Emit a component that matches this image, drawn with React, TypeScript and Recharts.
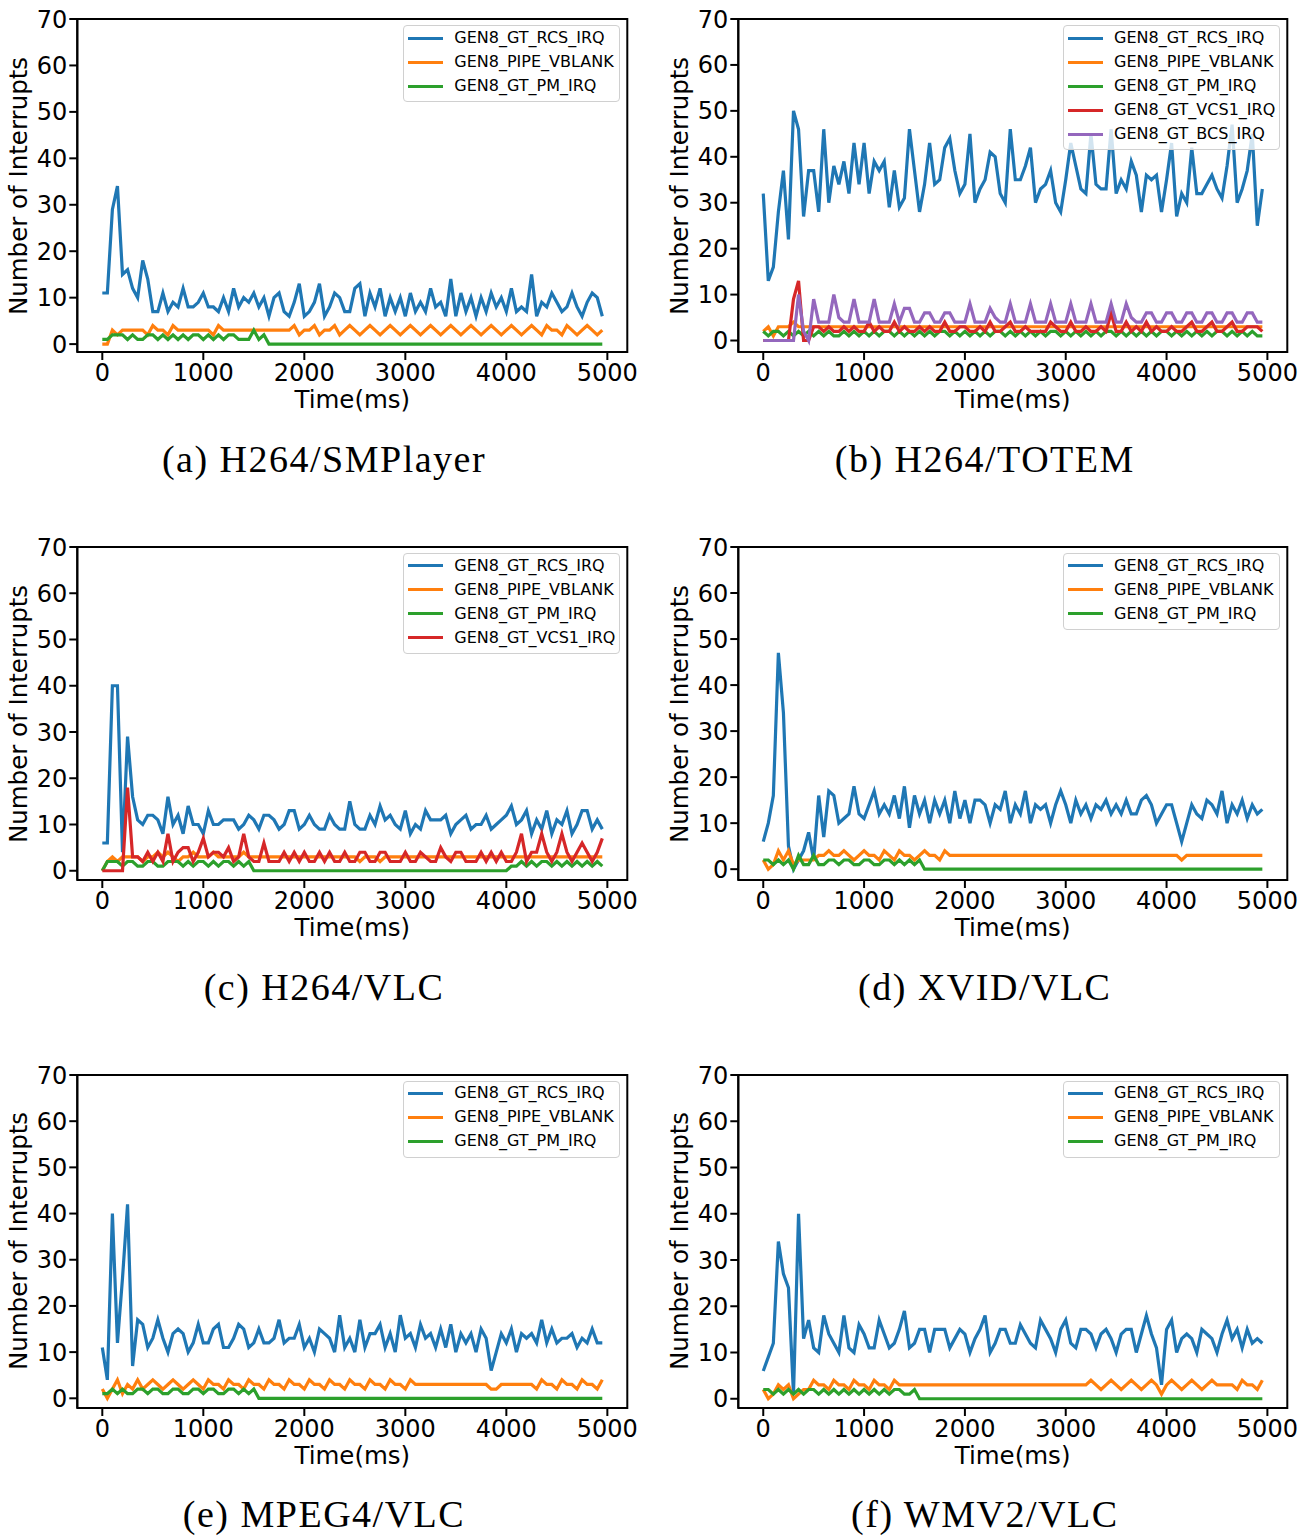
import React from 'react';
import { LineChart, Line, XAxis, YAxis, ReferenceArea } from 'recharts';

const TIME = [
  0, 50, 100, 150, 200, 250, 300, 350, 400, 450,
  500, 550, 600, 650, 700, 750, 800, 850, 900, 950,
  1000, 1050, 1100, 1150, 1200, 1250, 1300, 1350, 1400, 1450,
  1500, 1550, 1600, 1650, 1700, 1750, 1800, 1850, 1900, 1950,
  2000, 2050, 2100, 2150, 2200, 2250, 2300, 2350, 2400, 2450,
  2500, 2550, 2600, 2650, 2700, 2750, 2800, 2850, 2900, 2950,
  3000, 3050, 3100, 3150, 3200, 3250, 3300, 3350, 3400, 3450,
  3500, 3550, 3600, 3650, 3700, 3750, 3800, 3850, 3900, 3950,
  4000, 4050, 4100, 4150, 4200, 4250, 4300, 4350, 4400, 4450,
  4500, 4550, 4600, 4650, 4700, 4750, 4800, 4850, 4900, 4950,
];
const X_TICKS = [0, 1000, 2000, 3000, 4000, 5000];
const Y_TICKS = [0, 10, 20, 30, 40, 50, 60, 70];

const NAMES: Record<string, string> = {
  rcs: 'GEN8_GT_RCS_IRQ',
  vblank: 'GEN8_PIPE_VBLANK',
  pm: 'GEN8_GT_PM_IRQ',
  vcs1: 'GEN8_GT_VCS1_IRQ',
  bcs: 'GEN8_GT_BCS_IRQ',
};
const COLORS: Record<string, string> = {
  rcs: '#1f77b4',
  vblank: '#ff7f0e',
  pm: '#2ca02c',
  vcs1: '#d62728',
  bcs: '#9467bd',
};

// (a) H264/SMPlayer
const A_RCS = [
  11, 11, 29, 34, 15, 16, 12, 10, 18, 14,
  7, 7, 11, 7, 9, 8, 12, 8, 8, 9,
  11, 8, 8, 7, 10, 7, 12, 8, 10, 9,
  11, 8, 10, 6, 10, 11, 7, 6, 9, 13,
  6, 7, 9, 13, 6, 8, 11, 10, 7, 7,
  12, 13, 6, 11, 8, 12, 6, 10, 7, 10,
  6, 11, 7, 9, 7, 12, 8, 9, 6, 14,
  6, 11, 7, 10, 6, 10, 7, 11, 8, 10,
  7, 12, 7, 8, 7, 15, 6, 9, 8, 11,
  9, 7, 8, 11, 8, 6, 9, 11, 10, 6,
];
const A_VBLANK = [
  0, 0, 3, 2, 3, 3, 3, 3, 3, 2,
  4, 3, 3, 2, 4, 3, 3, 3, 3, 3,
  3, 3, 2, 4, 3, 3, 3, 3, 3, 3,
  3, 3, 3, 3, 3, 3, 3, 3, 4, 2,
  3, 3, 4, 2, 3, 3, 4, 2, 3, 4,
  3, 2, 3, 4, 3, 2, 3, 4, 3, 2,
  3, 4, 3, 2, 3, 4, 3, 2, 3, 4,
  3, 2, 3, 4, 3, 2, 3, 4, 3, 2,
  3, 4, 3, 2, 3, 4, 3, 2, 4, 3,
  3, 2, 4, 3, 2, 3, 4, 3, 2, 3,
];
const A_PM = [
  1, 1, 2, 2, 2, 1, 2, 1, 1, 2,
  2, 1, 2, 1, 2, 1, 2, 1, 2, 2,
  1, 2, 1, 2, 1, 2, 2, 1, 1, 1,
  3, 1, 2, 0, 0, 0, 0, 0, 0, 0,
  0, 0, 0, 0, 0, 0, 0, 0, 0, 0,
  0, 0, 0, 0, 0, 0, 0, 0, 0, 0,
  0, 0, 0, 0, 0, 0, 0, 0, 0, 0,
  0, 0, 0, 0, 0, 0, 0, 0, 0, 0,
  0, 0, 0, 0, 0, 0, 0, 0, 0, 0,
  0, 0, 0, 0, 0, 0, 0, 0, 0, 0,
];

// (b) H264/TOTEM
const B_RCS = [
  32, 13, 16, 28, 37, 22, 50, 46, 27, 37,
  37, 28, 46, 30, 38, 34, 39, 32, 43, 34,
  43, 32, 39, 37, 39, 29, 37, 29, 31, 46,
  37, 28, 34, 43, 34, 35, 42, 44, 37, 32,
  34, 45, 30, 33, 35, 41, 40, 32, 30, 46,
  35, 35, 38, 42, 30, 33, 34, 37, 30, 28,
  35, 43, 38, 33, 32, 45, 34, 33, 33, 46,
  32, 35, 33, 39, 36, 28, 36, 35, 36, 28,
  35, 43, 27, 32, 30, 42, 32, 32, 34, 36,
  33, 31, 38, 47, 30, 33, 37, 45, 25, 33,
];
const B_VBLANK = [
  2, 3, 1, 3, 3, 3, 4, 3, 3, 3,
  3, 3, 3, 3, 3, 3, 3, 3, 3, 3,
  3, 3, 3, 3, 3, 3, 3, 3, 3, 3,
  3, 3, 3, 3, 3, 3, 3, 3, 3, 3,
  3, 3, 3, 3, 3, 3, 3, 3, 3, 3,
  3, 3, 3, 3, 3, 3, 3, 3, 3, 3,
  3, 3, 3, 3, 3, 3, 3, 3, 3, 3,
  3, 3, 3, 3, 3, 3, 3, 3, 3, 3,
  3, 3, 3, 3, 3, 3, 3, 3, 3, 3,
  3, 3, 3, 3, 3, 3, 3, 3, 3, 3,
];
const B_PM = [
  2, 1, 2, 2, 1, 2, 1, 2, 1, 2,
  1, 2, 1, 2, 1, 1, 2, 1, 2, 1,
  2, 1, 2, 1, 2, 2, 1, 2, 1, 2,
  1, 2, 1, 2, 1, 2, 2, 1, 2, 1,
  2, 1, 2, 1, 2, 1, 2, 2, 1, 2,
  1, 2, 1, 2, 1, 2, 1, 2, 2, 1,
  2, 1, 2, 1, 2, 1, 2, 1, 2, 2,
  1, 2, 1, 2, 1, 2, 1, 2, 1, 2,
  2, 1, 2, 1, 2, 1, 2, 1, 2, 1,
  2, 2, 1, 2, 1, 2, 1, 2, 1, 1,
];
const B_VCS1 = [
  0, 0, 0, 0, 0, 0, 9, 13, 0, 0,
  3, 3, 2, 3, 2, 2, 3, 2, 3, 2,
  2, 4, 2, 3, 2, 2, 4, 2, 3, 2,
  2, 3, 2, 3, 2, 2, 4, 2, 2, 3,
  3, 2, 2, 3, 2, 4, 2, 2, 3, 4,
  2, 2, 3, 2, 2, 2, 2, 4, 3, 2,
  2, 4, 2, 2, 3, 2, 2, 3, 2, 6,
  2, 2, 4, 2, 3, 2, 4, 2, 3, 2,
  2, 3, 2, 2, 3, 4, 2, 2, 3, 4,
  2, 2, 3, 4, 2, 2, 3, 3, 3, 2,
];
const B_BCS = [
  0, 0, 0, 0, 0, 0, 0, 10, 2, 0,
  9, 4, 4, 4, 10, 5, 4, 4, 9, 4,
  4, 4, 9, 4, 4, 4, 8, 4, 7, 7,
  4, 4, 6, 6, 4, 4, 6, 6, 4, 4,
  4, 8, 4, 4, 4, 7, 5, 4, 4, 8,
  4, 4, 4, 8, 4, 4, 4, 8, 4, 4,
  4, 8, 4, 4, 4, 8, 4, 4, 4, 8,
  4, 4, 8, 5, 4, 4, 6, 6, 4, 4,
  6, 6, 4, 4, 6, 6, 4, 4, 6, 6,
  4, 4, 6, 6, 4, 4, 6, 6, 4, 4,
];

// (c) H264/VLC
const C_RCS = [
  6, 6, 40, 40, 4, 29, 16, 11, 10, 12,
  12, 11, 8, 16, 10, 12, 8, 14, 10, 10,
  8, 13, 10, 10, 11, 11, 11, 9, 10, 12,
  11, 9, 12, 12, 11, 9, 10, 13, 13, 9,
  10, 12, 10, 9, 9, 12, 10, 9, 9, 15,
  10, 9, 9, 12, 10, 14, 11, 12, 10, 9,
  13, 8, 10, 9, 13, 11, 11, 11, 12, 8,
  10, 11, 12, 9, 10, 10, 12, 9, 10, 11,
  12, 14, 10, 11, 13, 8, 11, 9, 13, 8,
  11, 10, 13, 8, 10, 13, 13, 9, 11, 9,
];
const C_VBLANK = [
  0, 2, 3, 2, 3, 3, 3, 3, 2, 3,
  3, 4, 3, 4, 3, 2, 3, 3, 4, 3,
  3, 3, 4, 3, 3, 3, 3, 3, 4, 3,
  3, 3, 3, 3, 3, 3, 3, 3, 3, 3,
  3, 3, 3, 3, 3, 3, 3, 3, 3, 3,
  3, 2, 3, 3, 3, 2, 3, 3, 3, 3,
  3, 3, 3, 3, 3, 3, 3, 3, 3, 3,
  3, 3, 3, 3, 3, 3, 3, 3, 3, 3,
  3, 3, 3, 3, 3, 3, 3, 3, 3, 3,
  3, 3, 3, 3, 3, 3, 3, 3, 3, 3,
];
const C_PM = [
  0, 2, 2, 2, 1, 2, 2, 1, 1, 2,
  2, 1, 1, 2, 2, 2, 1, 2, 1, 2,
  2, 1, 2, 1, 2, 2, 1, 2, 1, 2,
  0, 0, 0, 0, 0, 0, 0, 0, 0, 0,
  0, 0, 0, 0, 0, 0, 0, 0, 0, 0,
  0, 0, 0, 0, 0, 0, 0, 0, 0, 0,
  0, 0, 0, 0, 0, 0, 0, 0, 0, 0,
  0, 0, 0, 0, 0, 0, 0, 0, 0, 0,
  0, 1, 1, 2, 1, 2, 1, 2, 2, 1,
  2, 1, 2, 1, 2, 1, 2, 1, 2, 1,
];
const C_VCS1 = [
  0, 0, 0, 0, 0, 18, 3, 3, 2, 4,
  2, 4, 2, 8, 2, 4, 5, 5, 2, 4,
  7, 3, 4, 4, 3, 5, 2, 3, 8, 3,
  2, 2, 6, 2, 2, 2, 4, 2, 4, 2,
  4, 2, 2, 4, 2, 4, 2, 2, 4, 2,
  2, 4, 4, 2, 2, 4, 4, 2, 2, 2,
  4, 2, 2, 4, 3, 2, 2, 5, 3, 2,
  4, 4, 2, 2, 2, 4, 2, 4, 2, 4,
  2, 2, 4, 8, 2, 4, 4, 8, 4, 2,
  4, 8, 4, 2, 4, 6, 4, 2, 4, 7,
];

// (d) XVID/VLC
const D_RCS = [
  6, 10, 16, 47, 34, 5, 0, 2, 4, 8,
  2, 16, 7, 17, 16, 10, 11, 12, 18, 12,
  11, 14, 17, 12, 14, 12, 16, 11, 18, 9,
  16, 12, 15, 10, 15, 12, 15, 10, 17, 11,
  15, 10, 15, 15, 14, 10, 14, 13, 17, 10,
  14, 12, 17, 10, 14, 13, 14, 10, 14, 17,
  14, 10, 15, 12, 14, 11, 14, 13, 15, 12,
  14, 12, 15, 12, 12, 15, 16, 14, 10, 12,
  14, 14, 10, 6, 10, 14, 12, 11, 15, 14,
  12, 17, 10, 14, 12, 15, 11, 14, 12, 13,
];
const D_VBLANK = [
  2, 0, 1, 4, 2, 4, 1, 2, 2, 2,
  2, 3, 3, 4, 3, 3, 4, 3, 2, 3,
  4, 3, 3, 2, 4, 3, 2, 4, 3, 3,
  2, 3, 4, 3, 3, 2, 4, 3, 3, 3,
  3, 3, 3, 3, 3, 3, 3, 3, 3, 3,
  3, 3, 3, 3, 3, 3, 3, 3, 3, 3,
  3, 3, 3, 3, 3, 3, 3, 3, 3, 3,
  3, 3, 3, 3, 3, 3, 3, 3, 3, 3,
  3, 3, 3, 2, 3, 3, 3, 3, 3, 3,
  3, 3, 3, 3, 3, 3, 3, 3, 3, 3,
];
const D_PM = [
  2, 2, 1, 2, 1, 2, 0, 3, 1, 1,
  3, 1, 1, 2, 2, 1, 2, 2, 1, 1,
  2, 2, 1, 1, 2, 2, 1, 2, 1, 2,
  1, 2, 0, 0, 0, 0, 0, 0, 0, 0,
  0, 0, 0, 0, 0, 0, 0, 0, 0, 0,
  0, 0, 0, 0, 0, 0, 0, 0, 0, 0,
  0, 0, 0, 0, 0, 0, 0, 0, 0, 0,
  0, 0, 0, 0, 0, 0, 0, 0, 0, 0,
  0, 0, 0, 0, 0, 0, 0, 0, 0, 0,
  0, 0, 0, 0, 0, 0, 0, 0, 0, 0,
];

// (e) MPEG4/VLC
const E_RCS = [
  11, 4, 40, 12, 26, 42, 7, 17, 16, 11,
  13, 17, 13, 10, 14, 15, 14, 10, 12, 16,
  12, 12, 15, 16, 11, 11, 13, 16, 15, 11,
  12, 15, 12, 12, 13, 17, 12, 13, 13, 16,
  11, 13, 10, 15, 14, 13, 10, 18, 11, 13,
  10, 17, 11, 14, 14, 16, 11, 14, 10, 18,
  13, 14, 11, 16, 13, 14, 11, 15, 11, 16,
  10, 14, 12, 14, 10, 15, 13, 6, 10, 14,
  12, 15, 10, 14, 13, 14, 12, 17, 12, 15,
  12, 13, 13, 14, 11, 13, 12, 15, 12, 12,
];
const E_VBLANK = [
  2, 0, 2, 4, 1, 3, 2, 4, 2, 3,
  4, 3, 2, 3, 4, 3, 2, 3, 4, 3,
  2, 4, 3, 3, 2, 4, 3, 3, 2, 4,
  3, 3, 2, 4, 3, 3, 2, 4, 3, 3,
  2, 4, 3, 3, 2, 4, 3, 3, 2, 4,
  3, 3, 2, 4, 3, 3, 2, 4, 3, 3,
  2, 4, 3, 3, 3, 3, 3, 3, 3, 3,
  3, 3, 3, 3, 3, 3, 3, 2, 2, 3,
  3, 3, 3, 3, 3, 3, 2, 4, 3, 3,
  2, 4, 3, 3, 2, 4, 3, 3, 2, 4,
];
const E_PM = [
  1, 1, 2, 1, 2, 1, 1, 2, 2, 1,
  2, 2, 1, 1, 2, 2, 1, 1, 2, 2,
  1, 2, 2, 1, 1, 2, 2, 1, 2, 1,
  2, 0, 0, 0, 0, 0, 0, 0, 0, 0,
  0, 0, 0, 0, 0, 0, 0, 0, 0, 0,
  0, 0, 0, 0, 0, 0, 0, 0, 0, 0,
  0, 0, 0, 0, 0, 0, 0, 0, 0, 0,
  0, 0, 0, 0, 0, 0, 0, 0, 0, 0,
  0, 0, 0, 0, 0, 0, 0, 0, 0, 0,
  0, 0, 0, 0, 0, 0, 0, 0, 0, 0,
];

// (f) WMV2/VLC
const F_RCS = [
  6, 9, 12, 34, 27, 24, 1, 40, 13, 17,
  11, 10, 18, 14, 12, 10, 18, 11, 10, 16,
  14, 11, 11, 17, 14, 11, 12, 15, 19, 11,
  12, 15, 15, 10, 15, 15, 15, 11, 13, 15,
  14, 10, 13, 15, 18, 10, 12, 15, 15, 12,
  12, 16, 14, 12, 11, 17, 15, 13, 10, 15,
  17, 12, 11, 15, 15, 14, 11, 14, 15, 13,
  10, 14, 15, 15, 10, 14, 18, 14, 11, 3,
  15, 17, 10, 13, 14, 13, 10, 15, 14, 13,
  10, 14, 17, 13, 15, 11, 15, 12, 13, 12,
];
const F_VBLANK = [
  2, 0, 1, 3, 2, 3, 0, 1, 2, 2,
  4, 3, 3, 2, 4, 3, 3, 2, 4, 3,
  3, 2, 4, 3, 3, 2, 4, 3, 3, 3,
  3, 3, 3, 3, 3, 3, 3, 3, 3, 3,
  3, 3, 3, 3, 3, 3, 3, 3, 3, 3,
  3, 3, 3, 3, 3, 3, 3, 3, 3, 3,
  3, 3, 3, 3, 3, 4, 3, 2, 3, 4,
  3, 2, 3, 4, 3, 2, 3, 4, 3, 1,
  3, 4, 3, 2, 3, 4, 3, 2, 3, 4,
  3, 3, 3, 3, 2, 4, 3, 3, 2, 4,
];
const F_PM = [
  2, 2, 1, 2, 1, 2, 1, 2, 1, 2,
  2, 1, 2, 1, 2, 1, 2, 1, 2, 1,
  2, 1, 2, 1, 2, 1, 2, 2, 1, 1,
  2, 0, 0, 0, 0, 0, 0, 0, 0, 0,
  0, 0, 0, 0, 0, 0, 0, 0, 0, 0,
  0, 0, 0, 0, 0, 0, 0, 0, 0, 0,
  0, 0, 0, 0, 0, 0, 0, 0, 0, 0,
  0, 0, 0, 0, 0, 0, 0, 0, 0, 0,
  0, 0, 0, 0, 0, 0, 0, 0, 0, 0,
  0, 0, 0, 0, 0, 0, 0, 0, 0, 0,
];

const CAPTIONS = [
  '(a) H264/SMPlayer',
  '(b) H264/TOTEM',
  '(c) H264/VLC',
  '(d) XVID/VLC',
  '(e) MPEG4/VLC',
  '(f) WMV2/VLC',
];
const X_LABEL = 'Time(ms)';
const Y_LABEL = 'Number of Interrupts';

type SeriesDef = { key: string; values: number[] };
type PanelDef = { caption: string; col: number; row: number; ymin: number; series: SeriesDef[] };

const PANELS: PanelDef[] = [
  {
    caption: CAPTIONS[0], col: 0, row: 0, ymin: -1.7,
    series: [
      { key: 'rcs', values: A_RCS },
      { key: 'vblank', values: A_VBLANK },
      { key: 'pm', values: A_PM },
    ],
  },
  {
    caption: CAPTIONS[1], col: 1, row: 0, ymin: -2.5,
    series: [
      { key: 'rcs', values: B_RCS },
      { key: 'vblank', values: B_VBLANK },
      { key: 'pm', values: B_PM },
      { key: 'vcs1', values: B_VCS1 },
      { key: 'bcs', values: B_BCS },
    ],
  },
  {
    caption: CAPTIONS[2], col: 0, row: 1, ymin: -2,
    series: [
      { key: 'rcs', values: C_RCS },
      { key: 'vblank', values: C_VBLANK },
      { key: 'pm', values: C_PM },
      { key: 'vcs1', values: C_VCS1 },
    ],
  },
  {
    caption: CAPTIONS[3], col: 1, row: 1, ymin: -2.35,
    series: [
      { key: 'rcs', values: D_RCS },
      { key: 'vblank', values: D_VBLANK },
      { key: 'pm', values: D_PM },
    ],
  },
  {
    caption: CAPTIONS[4], col: 0, row: 2, ymin: -2.1,
    series: [
      { key: 'rcs', values: E_RCS },
      { key: 'vblank', values: E_VBLANK },
      { key: 'pm', values: E_PM },
    ],
  },
  {
    caption: CAPTIONS[5], col: 1, row: 2, ymin: -2,
    series: [
      { key: 'rcs', values: F_RCS },
      { key: 'vblank', values: F_VBLANK },
      { key: 'pm', values: F_PM },
    ],
  },
];

const X_DOMAIN: [number, number] = [-247.5, 5197.5];
const COL_X = [0, 660.8];
const ROW_Y = [19.3, 547, 1074.5];
const PLOT_W = [550, 549];
const PLOT_H = 333;
const TOP_PAD = 30;
const CHART_W = 640;
const CHART_H = 460;
const SANS = '"DejaVu Sans", sans-serif';

function Panel({ cfg }: { cfg: PanelDef }) {
  const colX = COL_X[cfg.col];
  const rowY = ROW_Y[cfg.row];
  const plotW = PLOT_W[cfg.col];
  const plotLeft = colX + 77.3;
  const data = TIME.map((t, i) => {
    const row: Record<string, number> = { t };
    cfg.series.forEach((s) => {
      row[s.key] = s.values[i];
    });
    return row;
  });
  const n = cfg.series.length;
  const legendW = 217;
  const legendH = 29 + (n - 1) * 24;
  return (
    <>
      <div style={{ position: 'absolute', left: colX, top: rowY - TOP_PAD, width: CHART_W, height: CHART_H }}>
        <LineChart
          width={CHART_W}
          height={CHART_H}
          data={data}
          margin={{ top: TOP_PAD, left: 17.3, right: CHART_W - 77.3 - plotW, bottom: CHART_H - TOP_PAD - PLOT_H - 40 }}
        >
          <XAxis
            type="number"
            dataKey="t"
            domain={X_DOMAIN}
            ticks={X_TICKS}
            interval={0}
            allowDataOverflow
            height={40}
            tickSize={8}
            tickMargin={4}
            axisLine={{ stroke: '#000', strokeWidth: 2 }}
            tickLine={{ stroke: '#000', strokeWidth: 2 }}
            tick={{ fill: '#000', fontSize: 24, fontFamily: SANS }}
          />
          <YAxis
            type="number"
            domain={[cfg.ymin, 70]}
            ticks={Y_TICKS}
            interval={0}
            allowDataOverflow
            width={60}
            tickSize={8}
            tickMargin={2}
            axisLine={{ stroke: '#000', strokeWidth: 2 }}
            tickLine={{ stroke: '#000', strokeWidth: 2 }}
            tick={{ fill: '#000', fontSize: 24, fontFamily: SANS }}
          />
          <ReferenceArea
            x1={X_DOMAIN[0]}
            x2={X_DOMAIN[1]}
            y1={cfg.ymin}
            y2={70}
            fill="none"
            fillOpacity={0}
            stroke="#000"
            strokeWidth={2}
          />
          {cfg.series.map((s) => (
            <Line
              key={s.key}
              type="linear"
              dataKey={s.key}
              stroke={COLORS[s.key]}
              strokeWidth={3.2}
              dot={false}
              activeDot={false}
              isAnimationActive={false}
            />
          ))}
        </LineChart>
      </div>
      {/* legend */}
      <div
        style={{
          position: 'absolute',
          left: plotLeft + plotW - 7 - legendW,
          top: rowY + 6,
          width: legendW,
          height: legendH,
          boxSizing: 'border-box',
          border: '1.5px solid #d0d0d0',
          borderRadius: 4,
          background: 'rgba(255,255,255,0.8)',
        }}
      >
        {cfg.series.map((s, k) => (
          <div key={s.key} style={{ position: 'absolute', left: 0, top: 13.3 + k * 24 - 12 - 1.5, height: 24, width: legendW }}>
            <div style={{ position: 'absolute', left: 4, top: 10.5, width: 35, height: 3, background: COLORS[s.key] }} />
            <div
              style={{
                position: 'absolute',
                left: 50,
                top: 0,
                lineHeight: '24px',
                fontSize: 16,
                fontFamily: SANS,
                color: '#000',
                whiteSpace: 'nowrap',
              }}
            >
              {NAMES[s.key]}
            </div>
          </div>
        ))}
      </div>
      {/* y label */}
      <div
        style={{
          position: 'absolute',
          left: colX + 19 - 200,
          top: rowY + PLOT_H / 2 - 12,
          width: 400,
          height: 24,
          lineHeight: '24px',
          fontSize: 24.5,
          fontFamily: SANS,
          color: '#000',
          textAlign: 'center',
          whiteSpace: 'nowrap',
          transform: 'rotate(-90deg)',
        }}
      >
        {Y_LABEL}
      </div>
      {/* x label */}
      <div
        style={{
          position: 'absolute',
          left: plotLeft + plotW / 2 - 150,
          top: rowY + 369,
          width: 300,
          lineHeight: '24px',
          fontSize: 24.5,
          fontFamily: SANS,
          color: '#000',
          textAlign: 'center',
          whiteSpace: 'nowrap',
        }}
      >
        {X_LABEL}
      </div>
      {/* caption */}
      <div
        style={{
          position: 'absolute',
          left: colX + 324 - 300,
          top: rowY + 420.7,
          width: 600,
          lineHeight: '38px',
          fontSize: 38,
          fontFamily: '"Liberation Serif", serif',
          letterSpacing: 1.5,
          color: '#000',
          textAlign: 'center',
          whiteSpace: 'nowrap',
        }}
      >
        {cfg.caption}
      </div>
    </>
  );
}

export default function App() {
  return (
    <div
      style={{
        position: 'absolute',
        left: 0,
        top: 0,
        width: 1308,
        height: 1536,
        background: '#fff',
        overflow: 'hidden',
      }}
    >
      {PANELS.map((p) => (
        <Panel key={p.caption} cfg={p} />
      ))}
    </div>
  );
}
